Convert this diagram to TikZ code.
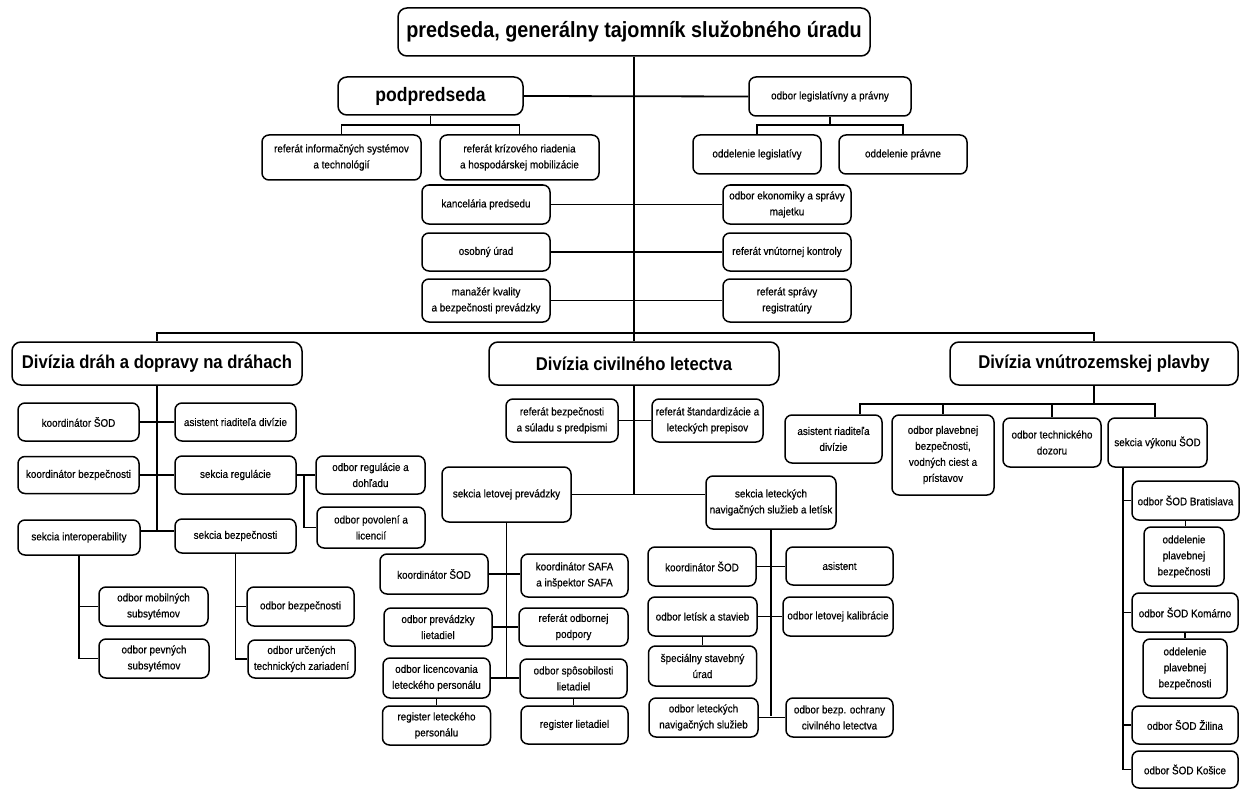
\documentclass[tikz,border=0pt]{standalone}
\usepackage{fontspec}
\setmainfont{Liberation Sans}[FakeStretch=0.9]
\newfontfamily\boxfont{Liberation Sans}[FakeStretch=0.9, FakeBold=0.5]
\usepackage{tikz}

\tikzset{
  box/.style={draw, line width=1.5pt, rounded corners=7pt, align=center, inner sep=1pt, font=\boxfont\fontsize{11}{16}\selectfont},
  head/.style={box, rounded corners=9pt, font=\bfseries\fontsize{18.5}{22}\selectfont},
  link/.style={line width=1.8pt},
}

\begin{document}
\begin{tikzpicture}[x=1pt,y=-1pt]
    \useasboundingbox (0,0) rectangle (1248,789);

    % Top
    \node[head, font=\bfseries\fontsize{22}{24}\selectfont, minimum width=472, minimum height=48] (pred) at (634,32) {predseda, generálny tajomník služobného úradu};
    \node[head, font=\bfseries\fontsize{19.5}{22}\selectfont, minimum width=185, minimum height=38] (podp) at (430.5,96) {podpredseda};
    \node[box, minimum width=162, minimum height=39] (legis) at (830,96.5) {odbor legislatívny a právny};
    \node[box, minimum width=159, minimum height=45] (refis) at (341.5,157.5) {referát informačných systémov\\a technológií};
    \node[box, minimum width=159, minimum height=45] (refkr) at (519.5,157.5) {referát krízového riadenia\\a hospodárskej mobilizácie};
    \node[box, minimum width=128, minimum height=39] (oddleg) at (757,154.5) {oddelenie legislatívy};
    \node[box, minimum width=128, minimum height=39] (oddpr) at (903,154.5) {oddelenie právne};
    \node[box, minimum width=128, minimum height=39] (kanc) at (486,204.5) {kancelária predsedu};
    \node[box, minimum width=128, minimum height=38] (osob) at (486,252) {osobný úrad};
    \node[box, minimum width=128, minimum height=43] (manaz) at (486,300.5) {manažér kvality\\a bezpečnosti prevádzky};
    \node[box, minimum width=128, minimum height=39] (ekon) at (787,204.5) {odbor ekonomiky a správy\\majetku};
    \node[box, minimum width=128, minimum height=38] (kontr) at (787,252) {referát vnútornej kontroly};
    \node[box, minimum width=128, minimum height=43] (regis) at (787,300.5) {referát správy\\registratúry};

    % Divisions
    \node[head, minimum width=290, minimum height=43] (divd) at (157,363.5) {Divízia dráh a dopravy na dráhach};
    \node[head, minimum width=290, minimum height=43] (divc) at (634,363.5) {Divízia civilného letectva};
    \node[head, minimum width=288, minimum height=43] (divv) at (1094,363.5) {Divízia vnútrozemskej plavby};

    % Division of railways
    \node[box, minimum width=121, minimum height=38] (dkoord) at (78.5,422) {koordinátor ŠOD};
    \node[box, minimum width=121, minimum height=38] (dasist) at (235.5,422) {asistent riaditeľa divízie};
    \node[box, minimum width=121, minimum height=37] (dkbez) at (78.5,475) {koordinátor bezpečnosti};
    \node[box, minimum width=121, minimum height=38] (dsreg) at (235.5,475) {sekcia regulácie};
    \node[box, minimum width=109, minimum height=38] (doreg) at (370.5,475) {odbor regulácie a\\dohľadu};
    \node[box, minimum width=108, minimum height=41] (dopov) at (371,527.5) {odbor povolení a\\licencií};
    \node[box, minimum width=122, minimum height=35] (dsint) at (79,537.5) {sekcia interoperability};
    \node[box, minimum width=121, minimum height=34] (dsbez) at (235.5,536) {sekcia bezpečnosti};
    \node[box, minimum width=109, minimum height=39] (domob) at (153.5,606.5) {odbor mobilných\\subsytémov};
    \node[box, minimum width=110, minimum height=39] (dopev) at (154,658.5) {odbor pevných\\subsytémov};
    \node[box, minimum width=107, minimum height=39] (dobez) at (300.5,606.5) {odbor bezpečnosti};
    \node[box, minimum width=107, minimum height=38] (dourc) at (301.5,659) {odbor určených\\technických zariadení};

    % Division of civil aviation
    \node[box, minimum width=112, minimum height=43] (crbez) at (562,420.5) {referát bezpečnosti\\a súladu s predpismi};
    \node[box, minimum width=111, minimum height=43] (crstd) at (707.5,420.5) {referát štandardizácie a\\leteckých prepisov};
    \node[box, minimum width=129, minimum height=55] (cslp) at (506.5,494.5) {sekcia letovej prevádzky};
    \node[box, minimum width=130, minimum height=53] (csln) at (771,502.5) {sekcia leteckých\\navigačných služieb a letísk};
    \node[box, minimum width=108, minimum height=40] (ckoord) at (434,574) {koordinátor ŠOD};
    \node[box, minimum width=107, minimum height=43] (csafa) at (574.5,575.5) {koordinátor SAFA\\a inšpektor SAFA};
    \node[box, minimum width=108, minimum height=38] (coprev) at (438,627) {odbor prevádzky\\lietadiel};
    \node[box, minimum width=109, minimum height=38] (crodb) at (573.5,627) {referát odbornej\\podpory};
    \node[box, minimum width=107, minimum height=40] (colic) at (436.5,678) {odbor licencovania\\leteckého personálu};
    \node[box, minimum width=107, minimum height=39] (cospo) at (573.5,678.5) {odbor spôsobilosti\\lietadiel};
    \node[box, minimum width=108, minimum height=39] (cregl) at (436.5,725.5) {register leteckého\\personálu};
    \node[box, minimum width=107, minimum height=38] (cregt) at (574.5,725) {register lietadiel};
    \node[box, minimum width=108, minimum height=39] (nkoord) at (702,566.5) {koordinátor ŠOD};
    \node[box, minimum width=107, minimum height=38] (nasist) at (839.5,566) {asistent};
    \node[box, minimum width=109, minimum height=39] (nolet) at (702.5,616.5) {odbor letísk a stavieb};
    \node[box, minimum width=110, minimum height=39] (nokal) at (838,616.5) {odbor letovej kalibrácie};
    \node[box, minimum width=108, minimum height=40] (nspec) at (702.5,666) {špeciálny stavebný\\úrad};
    \node[box, minimum width=109, minimum height=39] (nonav) at (703.5,717.5) {odbor leteckých\\navigačných služieb};
    \node[box, minimum width=107, minimum height=39] (nobez) at (839.5,717.5) {odbor bezp. ochrany\\civilného letectva};

    % Division of inland navigation
    \node[box, minimum width=97, minimum height=48] (vasist) at (833.5,439) {asistent riaditeľa\\divízie};
    \node[box, minimum width=102, minimum height=80] (voplav) at (943,455) {odbor plavebnej\\bezpečnosti,\\vodných ciest a\\prístavov};
    \node[box, minimum width=98, minimum height=49] (votech) at (1052,442.5) {odbor technického\\dozoru};
    \node[box, minimum width=99, minimum height=49] (vsekc) at (1157.5,442.5) {sekcia výkonu ŠOD};
    \node[box, minimum width=107, minimum height=39] (vbra) at (1185.5,500.5) {odbor ŠOD Bratislava};
    \node[box, minimum width=80, minimum height=59] (vodd1) at (1184,556.5) {oddelenie\\plavebnej\\bezpečnosti};
    \node[box, minimum width=106, minimum height=39] (vkom) at (1185,612.5) {odbor ŠOD Komárno};
    \node[box, minimum width=84, minimum height=59] (vodd2) at (1185,668.5) {oddelenie\\plavebnej\\bezpečnosti};
    \node[box, minimum width=106, minimum height=38] (vzil) at (1185,725) {odbor ŠOD Žilina};
    \node[box, minimum width=106, minimum height=37] (vkos) at (1185,769.5) {odbor ŠOD Košice};

    % Trunk
    \coordinate (dbus) at (634,333);
    \draw[link] (pred.south) -- (divc.north);
    \draw[link] (podp.east) -- (legis.west);
    \draw[link] (kanc.east) -- (kanc.east -| pred.south);
    \draw[thin] (kanc.east -| pred.south) -- (ekon.west);
    \draw[link] (osob.east) -- (kontr.west);
    \draw[link] (manaz.east) -- (manaz.east -| regis.west);
    \draw[link] (divd.north) |- (dbus) -| (divv.north);

    % Staff under the vice-chair and legal unit
    \coordinate (pbus) at (430.5,125);
    \coordinate (lbus) at (830,125);
    \draw[link] (podp.south) -- (pbus);
    \draw[link] (refis.north) |- (pbus) -| (refkr.north);
    \draw[link] (legis.south) -- (lbus);
    \draw[link] (oddleg.north) |- (lbus) -| (oddpr.north);

    % Railways
    \coordinate (dend) at (157,531);
    \coordinate (dreg) at (304,475);
    \draw[link] (divd.south) -- (dend);
    \draw[link] (dkoord.east) -- (dasist.west);
    \draw[link] (dkbez.east) -- (dsreg.west);
    \draw[link] (dsint.east |- dend) -- (dsbez.west |- dend);
    \draw[link] (dsreg.east) -- (doreg.west);
    \draw[link] (dreg) |- (dopov.west);
    \draw[link] (dsint.south) |- (domob.west);
    \draw[link] (dsint.south) |- (dopev.west);
    \draw[link] (dsbez.south) |- (dobez.west);
    \draw[link] (dsbez.south) |- (dourc.west);

    % Civil aviation
    \coordinate (cend) at (634,495);
    \coordinate (lpend) at (506.5,678);
    \coordinate (lnend) at (771,716);
    \draw[link] (divc.south) -- (cend);
    \draw[link] (crbez.east) -- (crstd.west);
    \draw[link] (cslp.east) -- (cslp.east -| csln.west);
    \draw[link] (cslp.south) -- (lpend);
    \draw[link] (ckoord.east) -- (ckoord.east -| csafa.west);
    \draw[link] (coprev.east) -- (crodb.west);
    \draw[link] (colic.east) -- (colic.east -| cospo.west);
    \draw[link] (colic.south) -- (cregl.north);
    \draw[link] (cospo.south) -- (cospo.south |- cregt.north);
    \draw[link] (csln.south) -- (lnend);
    \draw[link] (nkoord.east) -- (nkoord.east -| nasist.west);
    \draw[link] (nolet.east) -- (nokal.west);
    \draw[link] (nolet.south) -- (nolet.south |- nspec.north);
    \draw[link] (nonav.east) -- (nobez.west);

    % Inland navigation
    \coordinate (vbus) at (1094,404);
    \coordinate (vs) at (1123,467);
    \draw[link] (divv.south) -- (vbus);
    \draw[link] ([xshift=26.5pt]vasist.north) |- (vbus) -| ([xshift=-2.5pt]vsekc.north);
    \draw[link] (voplav.north) -- (voplav.north |- vbus);
    \draw[link] (votech.north) -- (votech.north |- vbus);
    \draw[link] (vs) |- (vbra.west);
    \draw[link] (vs) |- (vkom.west);
    \draw[link] (vs) |- (vzil.west);
    \draw[link] (vs) |- (vkos.west);
    \draw[link] (vbra.south) -- (vbra.south |- vodd1.north);
    \draw[link] (vkom.south) -- (vkom.south |- vodd2.north);
\end{tikzpicture}
\end{document}
